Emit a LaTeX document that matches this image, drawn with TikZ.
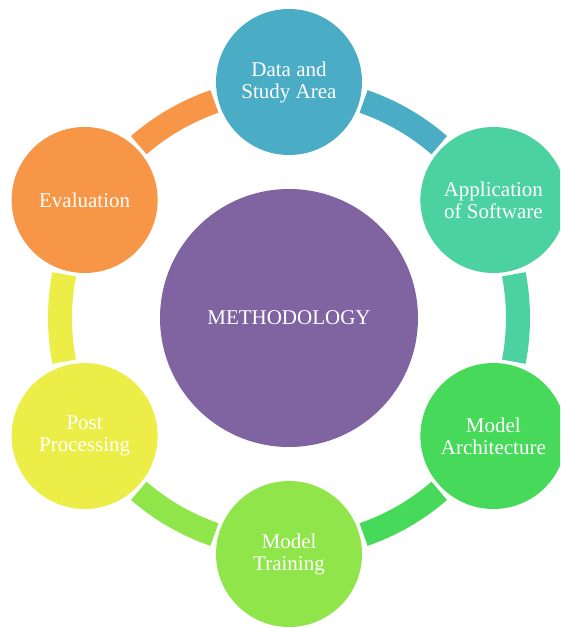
\documentclass[tikz,border=0pt]{standalone}
\usepackage{fontspec}
\setmainfont{Liberation Serif}
\usetikzlibrary{positioning}

\definecolor{dataclr}{HTML}{4BACC6}
\definecolor{softclr}{HTML}{4CD1A1}
\definecolor{archclr}{HTML}{47DA5A}
\definecolor{trainclr}{HTML}{8FE54A}
\definecolor{postclr}{HTML}{EDED48}
\definecolor{evalclr}{HTML}{F79646}
\definecolor{methclr}{HTML}{8064A2}

\tikzset{
  stagecirc/.style={circle,minimum size=146pt,inner sep=0pt,text=white,
    align=center,font=\fontsize{21}{22}\selectfont},
  ringseg/.style={line width=24pt}
}

\begin{document}
\begin{tikzpicture}[x=1pt,y=1pt]
  \useasboundingbox (-289,-310) rectangle (271,318);
  \clip (-289,-310) rectangle (271,318);

  % ring pieces between the stages
  \draw[ringseg,dataclr] (49:229) arc [radius=229,start angle=49,end angle=71];
  \draw[ringseg,softclr] (-11:229) arc [radius=229,start angle=-11,end angle=11];
  \draw[ringseg,archclr] (-71:229) arc [radius=229,start angle=-71,end angle=-49];
  \draw[ringseg,trainclr] (-131:229) arc [radius=229,start angle=-131,end angle=-109];
  \draw[ringseg,postclr] (169:229) arc [radius=229,start angle=169,end angle=191];
  \draw[ringseg,evalclr] (109:229) arc [radius=229,start angle=109,end angle=131];

  \node[stagecirc,fill=methclr,minimum size=258pt] (meth) at (0,0) {METHODOLOGY};

  \node[stagecirc,fill=dataclr] (data) at (90:236) {Data and\\Study Area};
  \node[stagecirc,fill=softclr] (soft) at (30:236) {Application\\of Software};
  \node[stagecirc,fill=archclr] (arch) at (-30:236) {Model\\Architecture};
  \node[stagecirc,fill=trainclr] (train) at (-90:236) {Model\\Training};
  \node[stagecirc,fill=postclr] (post) at (-150:236) {Post\\Processing};
  \node[stagecirc,fill=evalclr] (eval) at (150:236) {Evaluation};
\end{tikzpicture}
\end{document}
